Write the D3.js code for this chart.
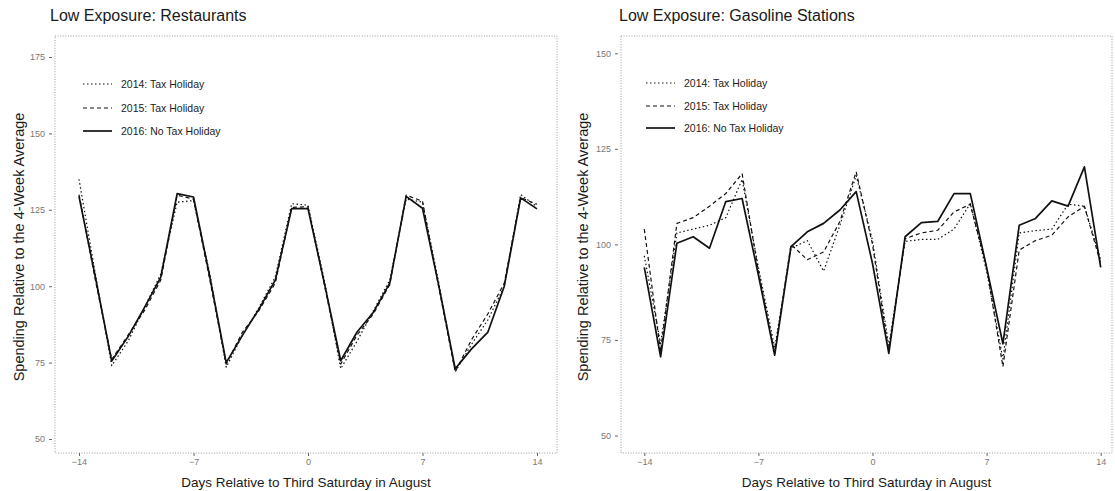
<!DOCTYPE html>
<html>
<head>
<meta charset="utf-8">
<script src="https://cdn.jsdelivr.net/npm/d3@7"></script>
<style>
  html, body { margin: 0; padding: 0; background: #fff; }
  svg { display: block; font-family: "Liberation Sans", Arial, sans-serif; }
</style>
</head>
<body>
<svg id="chart" width="1115" height="491"></svg>
<script>
// ---- data ----
const days = [-14,-13,-12,-11,-10,-9,-8,-7,-6,-5,-4,-3,-2,-1,0,1,2,3,4,5,6,7,8,9,10,11,12,13,14];
const xTicks = [-14, -7, 0, 7, 14];
const seriesNames = ["2014: Tax Holiday", "2015: Tax Holiday", "2016: No Tax Holiday"];

const restTitle = "Low Exposure: Restaurants";
const restYTicks = [50, 75, 100, 125, 150, 175];
const rest2014 = [135,104,74,82,93,104,127.5,128,104,73.5,84,93,103,127,126.5,102,73,82,92,102,128.5,127.5,101,72,81,89,100,130,126];
const rest2015 = [130,102,76,84,92,102,129.8,128.5,102,74.5,85,92,101,125.8,126,100.5,74.5,84,91,100.5,129.8,127.8,99.5,72,82.5,91,101,129,126.8];
const rest2016 = [129.4,103,75.5,83.5,93,103,130.3,129.2,103,75,84,92.5,102,125.4,125.4,101,75.6,85,91.5,101,129.4,125.5,100,73,79.5,85,100,128.9,125.3];

const gasTitle = "Low Exposure: Gasoline Stations";
const gasYTicks = [50, 75, 100, 125, 150];
const gas2014 = [97,74,103,104,105,107,117,94,73,99,101,93,105,118,101,73.5,100.8,101.3,101.3,104,110.7,93,70,103,103.6,104,110.5,110,96];
const gas2015 = [104,72,105.5,107,110,113.3,118.5,93,71.5,100,96,98,106,119,100,72,101.5,103,103.7,108.5,110.5,94,68,98.5,101,102.4,107.2,110,95];
const gas2016 = [94,70.6,100.3,102,99,111.2,112,92,71,99.4,103.3,105.5,109,113.8,95,71.5,102,105.7,106,113.3,113.3,94,74,105,106.8,111.4,110,120.3,94];

const xLabel = "Days Relative to Third Saturday in August";
const yLabel = "Spending Relative to the 4-Week Average";

// ---- styles ----
const lineStyles = [
  { dash: "1.5,2.5", width: 1.2 },
  { dash: "4,3", width: 1.2 },
  { dash: null, width: 1.7 }
];

const svg = d3.select("#chart");

function drawPanel(cfg) {
  const g = svg.append("g");
  const x = d3.scaleLinear().domain([-14, 14]).range(cfg.xRange);
  const y = d3.scaleLinear().domain([cfg.yTicks[0], cfg.yTicks[cfg.yTicks.length - 1]]).range(cfg.yRange);

  // frame
  g.append("rect")
    .attr("x", cfg.frame[0]).attr("y", cfg.frame[1])
    .attr("width", cfg.frame[2] - cfg.frame[0]).attr("height", cfg.frame[3] - cfg.frame[1])
    .attr("fill", "none").attr("stroke", "#9a9a9a").attr("stroke-width", 1)
    .attr("stroke-dasharray", "1,1.6");

  // title
  g.append("text").attr("x", cfg.titleX).attr("y", 21)
    .attr("font-size", 16).attr("fill", "#1a1a1a").text(cfg.title);

  // y axis
  const yAxis = g.append("g").attr("transform", `translate(${cfg.frame[0] - 3},0)`)
    .call(d3.axisLeft(y).tickValues(cfg.yTicks).tickSize(3).tickPadding(4).tickFormat(d3.format("d")));
  yAxis.select(".domain").remove();
  yAxis.selectAll("line").attr("stroke", "#666");
  yAxis.selectAll("text").attr("font-size", 9).attr("fill", "#777").attr("font-family", "Liberation Sans, Arial, sans-serif");

  // x axis
  const xAxis = g.append("g").attr("transform", `translate(0,${cfg.frame[3]})`)
    .call(d3.axisBottom(x).tickValues(xTicks).tickSize(3).tickPadding(3).tickFormat(d3.format("d")));
  xAxis.select(".domain").remove();
  xAxis.selectAll("line").attr("stroke", "#666");
  xAxis.selectAll("text").attr("font-size", 9).attr("fill", "#777").attr("font-family", "Liberation Sans, Arial, sans-serif");

  // axis titles
  g.append("text").attr("x", (cfg.frame[0] + cfg.frame[2]) / 2).attr("y", 487)
    .attr("text-anchor", "middle").attr("font-size", 13.5).attr("fill", "#1a1a1a").text(xLabel);
  g.append("text")
    .attr("transform", `translate(${cfg.yTitleX},247) rotate(-90)`)
    .attr("text-anchor", "middle").attr("font-size", 14.5).attr("fill", "#1a1a1a").text(yLabel);

  // lines
  const line = d3.line().x((d, i) => x(days[i])).y(d => y(d));
  cfg.series.forEach((s, k) => {
    g.append("path").datum(s)
      .attr("d", line)
      .attr("fill", "none").attr("stroke", "#111")
      .attr("stroke-width", lineStyles[k].width)
      .attr("stroke-linejoin", "round")
      .attr("stroke-dasharray", lineStyles[k].dash);
  });

  // legend
  seriesNames.forEach((name, k) => {
    const ly = cfg.legendY[k];
    g.append("line")
      .attr("x1", cfg.legendX).attr("x2", cfg.legendX + 29)
      .attr("y1", ly).attr("y2", ly)
      .attr("stroke", "#111").attr("stroke-width", lineStyles[k].width)
      .attr("stroke-dasharray", lineStyles[k].dash);
    g.append("text").attr("x", cfg.legendX + 38).attr("y", ly + 3.5)
      .attr("font-size", 10.5).attr("fill", "#222").text(name);
  });
}

drawPanel({
  title: restTitle, titleX: 50,
  frame: [55, 36, 557, 453],
  xRange: [79, 537],
  yTicks: restYTicks, yRange: [439, 57],
  yTitleX: 24,
  series: [rest2014, rest2015, rest2016],
  legendX: 83, legendY: [84, 108, 131]
});

drawPanel({
  title: gasTitle, titleX: 619,
  frame: [621, 36, 1112, 453],
  xRange: [644.3, 1100.7],
  yTicks: gasYTicks, yRange: [435.5, 53.3],
  yTitleX: 588,
  series: [gas2014, gas2015, gas2016],
  legendX: 646, legendY: [83, 106, 128]
});
</script>
</body>
</html>
